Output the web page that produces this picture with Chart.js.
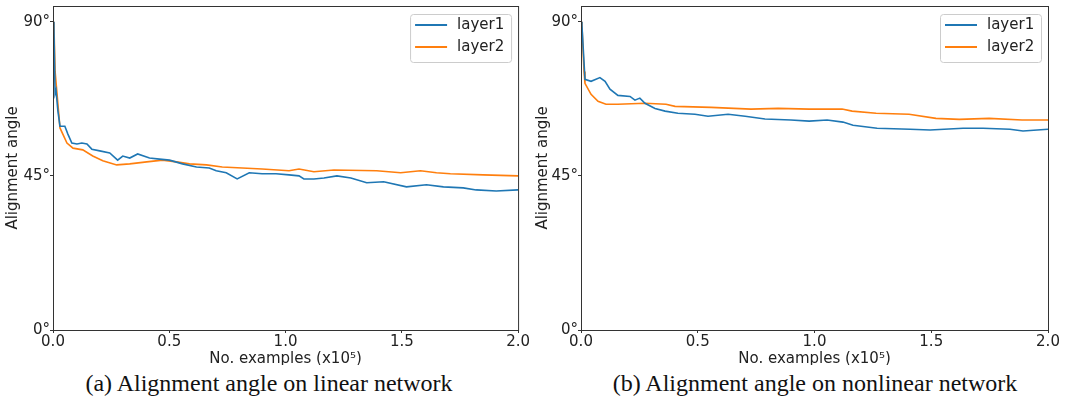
<!DOCTYPE html>
<html>
<head>
<meta charset="utf-8">
<script src="https://cdn.jsdelivr.net/npm/chart.js@4.4.1/dist/chart.umd.min.js"></script>
<style>
  body { margin: 0; background: #fff; width: 1065px; height: 404px; position: relative; overflow: hidden; }
  .panel { position: absolute; top: -3px; width: 530px; height: 368px; }
  .caption { position: absolute; top: 370px; width: 530px; text-align: center; white-space: nowrap;
    font-family: "Liberation Serif", "Times New Roman", serif; font-size: 24px; color: #111; }
</style>
</head>
<body>
<div class="panel" style="left:0"><canvas id="linearChart"></canvas></div>
<div class="panel" style="left:530px"><canvas id="nonlinearChart"></canvas></div>
<div class="caption" style="left:4px">(a) Alignment angle on linear network</div>
<div class="caption" style="left:550px">(b) Alignment angle on nonlinear network</div>
<script>
// tick values
const xTickValues = [0, 0.5, 1.0, 1.5, 2.0];
const yTickValues = [0, 45, 90];
const seriesNames = ["layer1", "layer2"];
const seriesColors = ["#1f77b4", "#ff7f0e"];

// (a) linear network, x in units of 1e5 examples
const linearX1 = [0, 0.004, 0.009, 0.013, 0.021, 0.030, 0.047, 0.051, 0.064, 0.081, 0.103, 0.124, 0.146, 0.167,
  0.201, 0.244, 0.278, 0.300, 0.330, 0.364, 0.415, 0.458, 0.501, 0.557, 0.617, 0.672, 0.702, 0.745, 0.792,
  0.844, 0.899, 0.959, 1.015, 1.058, 1.079, 1.122, 1.165, 1.221, 1.281, 1.349, 1.422, 1.520, 1.606, 1.679,
  1.764, 1.820, 1.906, 2.0];
const linearLayer1 = [90, 88, 69, 70, 64, 59.5, 59.5, 59.5, 57.2, 54.6, 54.3, 54.6, 54.3, 52.8,
  52.3, 51.7, 49.6, 50.8, 50.2, 51.4, 50.2, 49.9, 49.6, 48.5, 47.6, 47.3, 46.5, 45.9, 44.1,
  45.9, 45.6, 45.6, 45.3, 45.0, 44.1, 44.1, 44.4, 45.0, 44.4, 43.0, 43.3, 41.8, 42.4, 41.8,
  41.5, 40.9, 40.6, 40.9];
const linearX2 = [0, 0.004, 0.009, 0.030, 0.060, 0.086, 0.128, 0.171, 0.214, 0.274, 0.330, 0.403, 0.471,
  0.531, 0.587, 0.660, 0.728, 0.814, 0.899, 1.015, 1.058, 1.122, 1.208, 1.392, 1.495, 1.580, 1.649,
  1.709, 1.850, 2.0];
const linearLayer2 = [90, 89, 75.5, 59, 54.6, 53.1, 52.6, 50.8, 49.4, 48.2, 48.5, 49.1, 49.6,
  49.1, 48.5, 48.2, 47.6, 47.3, 47.0, 46.5, 47.0, 46.2, 46.7, 46.5, 45.9, 46.5, 45.9,
  45.6, 45.3, 45.0];

// (b) nonlinear network
const nonlinX1 = [0, 0.004, 0.017, 0.043, 0.081, 0.103, 0.124, 0.158, 0.210, 0.231, 0.252, 0.274, 0.317,
  0.360, 0.415, 0.488, 0.544, 0.630, 0.703, 0.788, 0.899, 0.977, 1.054, 1.122, 1.165, 1.268, 1.409,
  1.495, 1.636, 1.722, 1.837, 1.893, 2.0];
const nonlinLayer1 = [90, 89, 73.2, 72.6, 73.7, 72.6, 70.3, 68.5, 68.2, 67.1, 67.7, 66.2, 64.7,
  63.9, 63.3, 63.0, 62.4, 63.0, 62.4, 61.6, 61.3, 61.0, 61.3, 60.7, 59.8, 58.9, 58.6,
  58.4, 58.9, 58.9, 58.6, 58.1, 58.6];
const nonlinX2 = [0, 0.004, 0.013, 0.017, 0.043, 0.073, 0.107, 0.158, 0.274, 0.364, 0.403, 0.557, 0.728,
  0.844, 0.977, 1.118, 1.161, 1.264, 1.405, 1.520, 1.620, 1.748, 1.889, 2.0];
const nonlinLayer2 = [90, 89, 75.5, 72, 68.8, 66.8, 65.9, 65.9, 66.2, 65.9, 65.3, 65.0, 64.5,
  64.7, 64.5, 64.5, 63.9, 63.3, 63.0, 61.8, 61.5, 61.8, 61.3, 61.3];

const FONT = "'DejaVu Sans', sans-serif";

// draws top/right spines and a matplotlib-like legend box
const framePlugin = {
  id: "frame",
  afterDraw(chart) {
    const ctx = chart.ctx;
    const a = chart.chartArea;
    ctx.save();
    ctx.strokeStyle = "#333";
    ctx.lineWidth = 1;
    ctx.strokeRect(a.left + 0.5, a.top + 0.5, a.right - a.left, a.bottom - a.top);

    // legend
    const w = 101, h = 48;
    const bx = a.right - 7 - w, by = a.top + 8;
    ctx.fillStyle = "rgba(255,255,255,0.8)";
    ctx.strokeStyle = "#ccc";
    ctx.beginPath();
    ctx.roundRect(bx + 0.5, by + 0.5, w, h, 3);
    ctx.fill();
    ctx.stroke();
    ctx.font = "15px " + FONT;
    ctx.textBaseline = "middle";
    chart.data.datasets.forEach((ds, i) => {
      const y = by + 11 + i * 22;
      ctx.strokeStyle = ds.borderColor;
      ctx.lineWidth = 2;
      ctx.beginPath();
      ctx.moveTo(bx + 5, y);
      ctx.lineTo(bx + 37, y);
      ctx.stroke();
      ctx.fillStyle = "#222";
      ctx.fillText(ds.label, bx + 47, y);
    });
    ctx.restore();
  },
};

function toPoints(xs, ys) {
  return xs.map((x, i) => ({ x: x, y: ys[i] }));
}

function makeChart(id, xs1, ys1, xs2, ys2, yAxisWidth, rightPad) {
  const ctx = document.getElementById(id).getContext("2d");
  return new Chart(ctx, {
    type: "line",
    data: {
      datasets: [
        { label: seriesNames[0], data: toPoints(xs1, ys1), borderColor: seriesColors[0], borderWidth: 1.6 },
        { label: seriesNames[1], data: toPoints(xs2, ys2), borderColor: seriesColors[1], borderWidth: 1.6 },
      ],
    },
    options: {
      responsive: true,
      maintainAspectRatio: false,
      animation: false,
      elements: { point: { radius: 0 }, line: { tension: 0 } },
      layout: { padding: { top: 0, right: rightPad, left: 0, bottom: 0 } },
      plugins: { legend: { display: false }, tooltip: { enabled: false } },
      scales: {
        x: {
          type: "linear",
          min: 0,
          max: 2.0,
          afterBuildTicks: (s) => { s.ticks = xTickValues.map((v) => ({ value: v })); },
          afterFit: (s) => { s.height = 35; },
          ticks: { color: "#222", font: { family: FONT, size: 15 }, padding: 0, maxRotation: 0,
            callback: (v) => v.toFixed(1) },
          grid: { drawOnChartArea: false, tickLength: 3, color: "#333" },
          border: { color: "#333" },
          title: { display: true, text: "No. examples (x10⁵)", color: "#222",
            font: { family: FONT, size: 15 }, padding: { top: 0, bottom: -3 } },
        },
        y: {
          min: 0,
          max: 94.6,
          afterBuildTicks: (s) => { s.ticks = yTickValues.map((v) => ({ value: v })); },
          afterFit: (s) => { s.width = yAxisWidth; },
          ticks: { color: "#222", font: { family: FONT, size: 15 }, padding: 0,
            callback: (v) => v + "°" },
          grid: { drawOnChartArea: false, tickLength: 3, color: "#333" },
          border: { color: "#333" },
          title: { display: true, text: "Alignment angle", color: "#222",
            font: { family: FONT, size: 15 }, padding: { top: 4, bottom: 0 } },
        },
      },
    },
    plugins: [framePlugin],
  });
}

makeChart("linearChart", linearX1, linearLayer1, linearX2, linearLayer2, 53, 10);
makeChart("nonlinearChart", nonlinX1, nonlinLayer1, nonlinX2, nonlinLayer2, 51, 12);
</script>
</body>
</html>
